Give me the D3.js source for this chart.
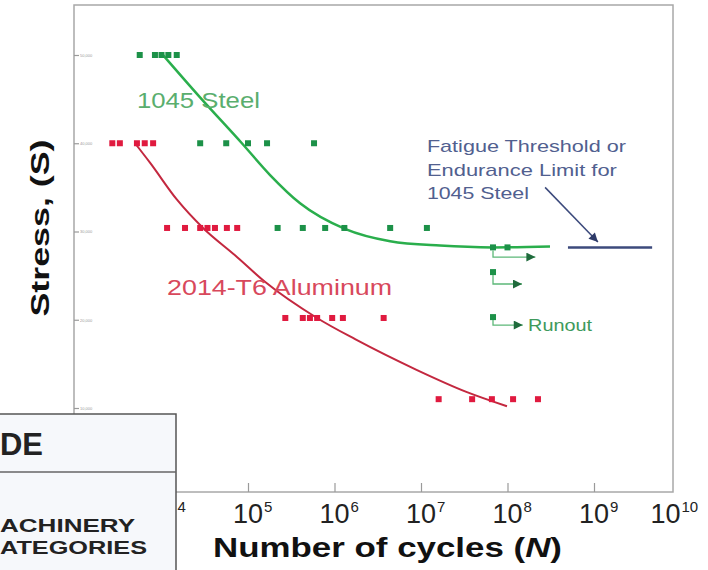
<!DOCTYPE html>
<html>
<head>
<meta charset="utf-8">
<title>S-N Curve</title>
<style>
  body { margin: 0; background: #fff; }
  svg { display: block; font-family: "Liberation Sans", Arial, sans-serif; }
  .frame { fill: none; stroke: #a8a8a8; stroke-width: 1.5px; }
  .axis path { display: none; }
  .axis line { stroke: #9a9a9a; stroke-width: 1.2px; }
  .yaxis text { font-size: 4px; fill: #999; }
  .steel-pt { fill: #1c9148; }
  .alu-pt { fill: #e01a3f; }
  .steel-line { fill: none; stroke: #2aae4c; stroke-width: 2.5px; }
  .alu-line { fill: none; stroke: #c3283f; stroke-width: 2px; }
  .runout { fill: none; stroke: #5cb878; stroke-width: 1.3px; }
  .limit { stroke: #3c4a7c; stroke-width: 2.5px; }
  .pointer { stroke: #3c4a7c; stroke-width: 1.5px; }
  .note { font-size: 17px; fill: #51608f; }
</style>
</head>
<body>
<svg width="708" height="570"></svg>
<script src="https://d3js.org/d3.v7.min.js"></script>
<script>
// values: [cycles N, stress S]
var steelPoints = [
  [5.6e3, 50], [8.4e3, 50], [1.0e4, 50], [1.2e4, 50], [1.5e4, 50],
  [2.8e4, 40], [5.6e4, 40], [1.0e5, 40], [1.66e5, 40], [5.8e5, 40],
  [2.2e5, 30.4], [4.3e5, 30.4], [7.8e5, 30.4], [1.3e6, 30.4], [4.4e6, 30.4], [1.17e7, 30.4],
  [6.8e7, 28.2], [1.0e8, 28.2], [6.8e7, 25.4], [6.8e7, 20.3]
];
var aluPoints = [
  [2.7e3, 40], [3.3e3, 40], [5.2e3, 40], [6.4e3, 40], [8.0e3, 40],
  [1.16e4, 30.4], [1.87e4, 30.4], [2.8e4, 30.4], [3.4e4, 30.4], [4.15e4, 30.4], [5.7e4, 30.4], [7.5e4, 30.4],
  [2.7e5, 20.2], [4.3e5, 20.2], [5.2e5, 20.2], [6.3e5, 20.2], [9.4e5, 20.2], [1.25e6, 20.2], [3.7e6, 20.2],
  [1.6e7, 11], [3.9e7, 11], [6.6e7, 11], [1.16e8, 11], [2.25e8, 11]
];
var steelCurve = [
  [1.04e4, 50], [2.79e4, 45.2], [8.5e4, 40], [1.8e5, 36.4], [4.0e5, 33.2],
  [1.32e6, 30.3], [4.4e6, 28.9], [1.66e7, 28.4], [6.8e7, 28.2], [3.1e8, 28.3]
];
var aluCurve = [
  [4.94e3, 40], [7.36e3, 37.8], [1.51e4, 33.6], [3.02e4, 30.4], [7.08e4, 27.3],
  [1.57e5, 24.3], [6.28e5, 20.2], [1.73e6, 17.8], [9.0e6, 14.3], [3.4e7, 11.8], [9.86e7, 10.2]
];
var runouts = [
  { from: [6.8e7, 28.2], to: [2.1e8, 27.1] },
  { from: [6.8e7, 25.4], to: [1.47e8, 24.05] },
  { from: [6.8e7, 20.3], to: [1.5e8, 19.4] }
];
var enduranceLimit = [[5.0e8, 28.2], [4.7e9, 28.2]];
var pointer = [[2.72e8, 35.0], [1.11e9, 28.8]];
var xTicks = [1e4, 1e5, 1e6, 1e7, 1e8, 1e9, 1e10];
var yTicks = [10, 20, 30, 40, 50];
var noteLines = ["Fatigue Threshold or", "Endurance Limit for", "1045 Steel"];

var svg = d3.select("svg");
var x = d3.scaleLog().domain([1e3, 1e10]).range([75, 680.5]);
var y = d3.scaleLinear().domain([10, 50]).range([408, 55]);

var defs = svg.append("defs");
defs.append("marker").attr("id", "head-green")
    .attr("viewBox", "0 0 10 10").attr("refX", 10).attr("refY", 5)
    .attr("markerUnits", "userSpaceOnUse").attr("markerWidth", 14).attr("markerHeight", 9)
    .attr("orient", "auto")
  .append("path").attr("d", "M0,0L10,5L0,10Z").attr("fill", "#1f6b3c");
defs.append("marker").attr("id", "head-blue")
    .attr("viewBox", "0 0 10 10").attr("refX", 10).attr("refY", 5)
    .attr("markerUnits", "userSpaceOnUse").attr("markerWidth", 14).attr("markerHeight", 9)
    .attr("orient", "auto")
  .append("path").attr("d", "M0,0L10,5L0,10Z").attr("fill", "#2e3a68");

// frame
svg.append("rect").attr("class", "frame")
    .attr("x", 74).attr("y", 5).attr("width", 599).attr("height", 487);

// x ticks (pointing up)
svg.append("g").attr("class", "axis")
    .attr("transform", "translate(0,492)")
    .call(d3.axisBottom(x).tickValues(xTicks.slice(0, -1)).tickSize(-9).tickFormat(""));

// y ticks (pointing in) with tiny labels
svg.append("g").attr("class", "axis yaxis")
    .attr("transform", "translate(74,0)")
    .call(d3.axisRight(y).tickValues(yTicks).tickSize(5).tickPadding(1)
      .tickFormat(function(d) { return d3.format(",")(d * 1000); }));

// curves
var line = d3.line()
    .x(function(d) { return x(d[0]); })
    .y(function(d) { return y(d[1]); })
    .curve(d3.curveMonotoneX);
svg.append("path").attr("class", "alu-line").attr("d", line(aluCurve));
svg.append("path").attr("class", "steel-line").attr("d", line(steelCurve));

// points
svg.append("g").selectAll("rect").data(aluPoints).enter().append("rect")
    .attr("class", "alu-pt")
    .attr("x", function(d) { return x(d[0]) - 3; })
    .attr("y", function(d) { return y(d[1]) - 3; })
    .attr("width", 6).attr("height", 6);
svg.append("g").selectAll("rect").data(steelPoints).enter().append("rect")
    .attr("class", "steel-pt")
    .attr("x", function(d) { return x(d[0]) - 3; })
    .attr("y", function(d) { return y(d[1]) - 3; })
    .attr("width", 6).attr("height", 6);

// runout arrows
svg.append("g").selectAll("path").data(runouts).enter().append("path")
    .attr("class", "runout")
    .attr("marker-end", "url(#head-green)")
    .attr("d", function(d) {
      return "M" + x(d.from[0]) + "," + (y(d.from[1]) + 3) +
        "V" + y(d.to[1]) + "H" + x(d.to[0]);
    });

// endurance limit + pointer
svg.append("line").attr("class", "limit")
    .attr("x1", x(enduranceLimit[0][0])).attr("y1", y(enduranceLimit[0][1]))
    .attr("x2", x(enduranceLimit[1][0])).attr("y2", y(enduranceLimit[1][1]));
svg.append("line").attr("class", "pointer")
    .attr("marker-end", "url(#head-blue)")
    .attr("x1", x(pointer[0][0])).attr("y1", y(pointer[0][1]))
    .attr("x2", x(pointer[1][0])).attr("y2", y(pointer[1][1]));

// labels
svg.append("text").attr("x", x(5.2e3)).attr("y", y(44.0))
    .attr("font-size", 22).attr("fill", "#5aae6e")
    .attr("textLength", 123).attr("lengthAdjust", "spacingAndGlyphs")
    .text("1045 Steel");
svg.append("text").attr("x", x(1.16e4)).attr("y", y(22.8))
    .attr("font-size", 22).attr("fill", "#d8485c")
    .attr("textLength", 225).attr("lengthAdjust", "spacingAndGlyphs")
    .text("2014-T6 Aluminum");

var noteLen = [199, 190, 102];
svg.append("g").selectAll("text").data(noteLines).enter().append("text")
    .attr("class", "note")
    .attr("x", x(1.17e7))
    .attr("y", function(d, i) { return y(39.0) + i * 23.5; })
    .attr("textLength", function(d, i) { return noteLen[i]; })
    .attr("lengthAdjust", "spacingAndGlyphs")
    .text(function(d) { return d; });

svg.append("text").attr("x", x(1.73e8)).attr("y", y(18.7))
    .attr("font-size", 17).attr("fill", "#3e9a5c")
    .attr("textLength", 64).attr("lengthAdjust", "spacingAndGlyphs")
    .text("Runout");

// x tick labels
var xl = svg.append("g").selectAll("g").data(xTicks).enter().append("g")
    .attr("transform", function(d, i) {
      return "translate(" + (x(d) - (i === xTicks.length - 1 ? 15 : 0)) + ",0)";
    });
xl.append("text").attr("y", 523).attr("text-anchor", "middle")
    .attr("font-size", 27).attr("fill", "#222").text("10");
xl.append("text").attr("x", 16).attr("y", 512)
    .attr("font-size", 15).attr("fill", "#222")
    .text(function(d) { return Math.round(Math.log10(d)); });

// axis titles
var xt = svg.append("text").attr("x", 213).attr("y", 557)
    .attr("font-size", 28).attr("font-weight", "bold").attr("fill", "#111")
    .attr("textLength", 349).attr("lengthAdjust", "spacingAndGlyphs");
xt.append("tspan").text("Number of cycles (");
xt.append("tspan").attr("font-style", "italic").text("N");
xt.append("tspan").text(")");

svg.append("text")
    .attr("transform", "translate(40,228) rotate(-90)")
    .attr("text-anchor", "middle").attr("dominant-baseline", "central")
    .attr("font-size", 26).attr("font-weight", "bold").attr("fill", "#111")
    .attr("textLength", 177).attr("lengthAdjust", "spacingAndGlyphs")
    .text("Stress, (S)");

// overlapping page fragment in the lower left
var box = svg.append("g");
box.append("rect").attr("x", -2).attr("y", 414).attr("width", 178).attr("height", 160)
    .attr("fill", "#f6f8fb").attr("stroke", "#555").attr("stroke-width", 1.5);
box.append("line").attr("x1", 0).attr("x2", 176).attr("y1", 472).attr("y2", 472)
    .attr("stroke", "#666").attr("stroke-width", 1.5);
box.append("text").attr("x", 0).attr("y", 455)
    .attr("font-size", 32).attr("font-weight", "bold").attr("fill", "#222")
    .attr("textLength", 43).attr("lengthAdjust", "spacingAndGlyphs").text("DE");
box.append("text").attr("x", 0).attr("y", 531.5)
    .attr("font-size", 19).attr("font-weight", "bold").attr("fill", "#222")
    .attr("textLength", 135).attr("lengthAdjust", "spacingAndGlyphs").text("ACHINERY");
box.append("text").attr("x", 0).attr("y", 553.5)
    .attr("font-size", 19).attr("font-weight", "bold").attr("fill", "#222")
    .attr("textLength", 147).attr("lengthAdjust", "spacingAndGlyphs").text("ATEGORIES");
</script>
</body>
</html>
